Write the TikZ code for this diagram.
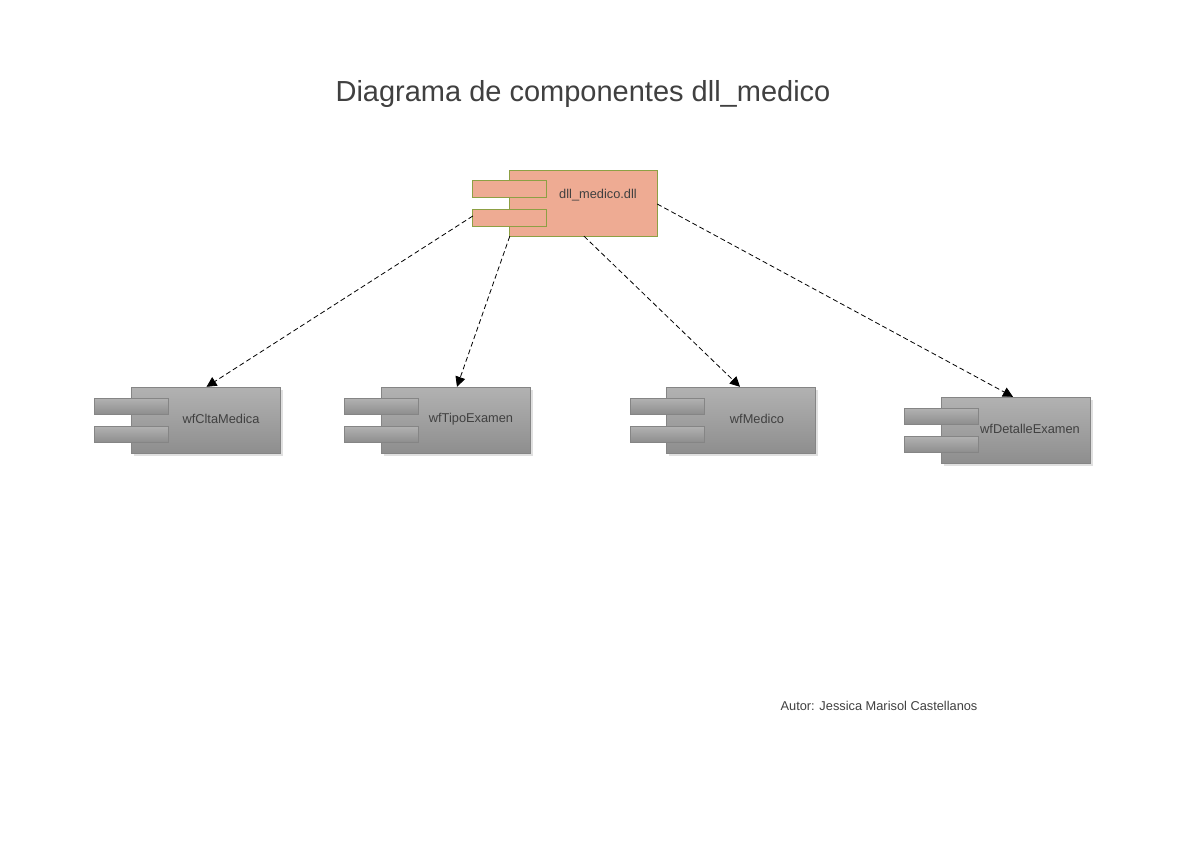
\documentclass[tikz,border=0pt]{standalone}
\usepackage{fontspec}
\setmainfont{Liberation Sans}
\usetikzlibrary{arrows.meta,shadows,calc}

\definecolor{salmon}{HTML}{EEAB93}
\definecolor{olive}{HTML}{8DA044}
\definecolor{grtop}{HTML}{B2B2B2}
\definecolor{grbot}{HTML}{8E8E8E}
\definecolor{grline}{HTML}{858585}
\definecolor{txtgray}{HTML}{404040}

\begin{document}
\begin{tikzpicture}[
    x=1pt, y=-1pt,
    every node/.style={font=\fontsize{12.8}{14}\selectfont, text=txtgray},
    dllbody/.style={rectangle, draw=olive, fill=salmon, minimum width=148pt, minimum height=66pt, inner sep=0pt},
    dlltab/.style={rectangle, draw=olive, fill=salmon, minimum width=74pt, minimum height=17pt, inner sep=0pt},
    wfbody/.style={rectangle, draw=grline, top color=grtop, bottom color=grbot, minimum width=149pt, minimum height=66pt, inner sep=0pt,
        drop shadow={shadow xshift=2.5pt, shadow yshift=-2.5pt, fill=black!12, opacity=1}},
    wftab/.style={rectangle, draw=grline, top color=grtop, bottom color=grbot, minimum width=74pt, minimum height=16pt, inner sep=0pt},
    dep/.style={-{Triangle[length=10pt,width=10pt]}, dash pattern=on 5pt off 3pt, black, line width=0.8pt}
]
    \useasboundingbox[fill=white] (0,0) rectangle (1189,841);

    % title
    \node[font=\fontsize{29}{32}\selectfont] (title) at (583,94) {Diagrama de componentes dll\_medico};

    % main component
    \node[dllbody] (dll) at (583,203) {};
    \node[dlltab] (dllTabA) at (509,188.5) {};
    \node[dlltab] (dllTabB) at (509,217.5) {};
    \node (dllTxt) at (598,195) {dll\_medico.dll};

    % wfCltaMedica
    \node[wfbody] (clta) at (205.5,420) {};
    \node[wftab] (cltaTabA) at (131,406) {};
    \node[wftab] (cltaTabB) at (131,434) {};
    \node (cltaTxt) at (221,419) {wfCltaMedica};

    % wfTipoExamen
    \node[wfbody] (tipo) at (455.5,420) {};
    \node[wftab] (tipoTabA) at (381,406) {};
    \node[wftab] (tipoTabB) at (381,434) {};
    \node (tipoTxt) at (471,419) {wfTipoExamen};

    % wfMedico
    \node[wfbody] (med) at (741,420) {};
    \node[wftab] (medTabA) at (667,406) {};
    \node[wftab] (medTabB) at (667,434) {};
    \node (medTxt) at (757,419) {wfMedico};

    % wfDetalleExamen
    \node[wfbody] (det) at (1015.5,430) {};
    \node[wftab] (detTabA) at (941,416) {};
    \node[wftab] (detTabB) at (941,444) {};
    \node (detTxt) at (1030,429) {wfDetalleExamen};

    % dependencies
    \draw[dep] ($(dll.west)+(-36,13)$) -- ($(clta.north)+(1,0)$);
    \draw[dep] ($(dll.south west)+(1,0)$) -- ($(tipo.north)+(1.5,0)$);
    \draw[dep] ($(dll.south)+(1,0)$) -- ($(med.north)+(-1,0)$);
    \draw[dep] ($(dll.east)+(0,1)$) -- ($(det.north)+(-2.5,0)$);

    % author
    \node (autor) at (879,706) {Autor: Jessica Marisol Castellanos};
\end{tikzpicture}
\end{document}
